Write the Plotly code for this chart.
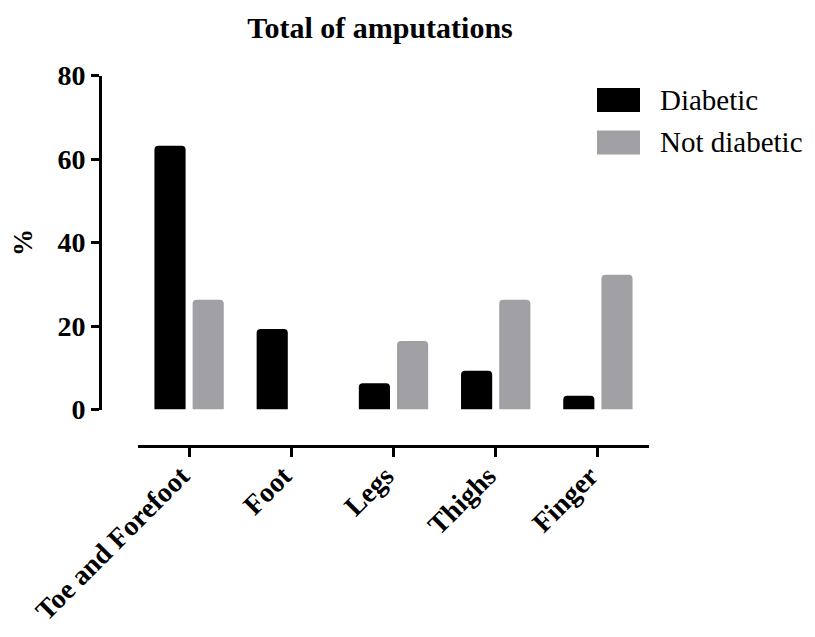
import plotly.graph_objects as go

categories = ["Toe and Forefoot", "Foot", "Legs", "Thighs", "Finger"]
diabetic = [63.2, 19.3, 6.3, 9.3, 3.3]
not_diabetic = [26.3, 0, 16.4, 26.3, 32.3]
y_ticks = [0, 20, 40, 60, 80]
series_names = ["Diabetic", "Not diabetic"]
series_colors = ["#000000", "#a1a1a5"]

# page is 815x637; the html body has an 8px margin, so the figure is inset
OFF = 8
W, H = 815 - 2 * OFF, 637 - 2 * OFF
FONT = "Liberation Serif"

def px_x(x):
    return (x - OFF) / W

def px_y(y):
    return (H - (y - OFF)) / H

fig = go.Figure()
for name, vals, col in zip(series_names, [diabetic, not_diabetic], series_colors):
    fig.add_trace(go.Bar(
        x=categories, y=vals, name=name,
        marker=dict(color=col, line=dict(width=0)),
        showlegend=False,
    ))

# custom legend (swatch + label)
legend_rows = [100, 142.5]
for name, col, yc in zip(series_names, series_colors, legend_rows):
    fig.add_shape(type="rect", xref="paper", yref="paper",
                  x0=px_x(597), x1=px_x(640), y0=px_y(yc + 12), y1=px_y(yc - 12),
                  fillcolor=col, line=dict(width=0), layer="above")
    fig.add_annotation(text=name, xref="paper", yref="paper",
                       x=px_x(658), y=px_y(yc), xanchor="left", yanchor="middle",
                       showarrow=False, font=dict(family=FONT, size=29, color="black"))

fig.update_layout(
    template="none",
    width=W, height=H,
    margin=dict(l=0, r=0, t=0, b=0, pad=0),
    paper_bgcolor="white", plot_bgcolor="white",
    barmode="group", bargap=0.253, bargroupgap=0.184,
    barcornerradius=4,
    title=dict(text="Total of amputations", x=px_x(380), xanchor="center",
               yref="container", y=px_y(27), yanchor="middle",
               font=dict(family=FONT, size=30, color="black", weight="bold")),
    xaxis=dict(
        domain=[px_x(138), px_x(649)], anchor="free", position=px_y(445.5),
        showline=True, linewidth=3, linecolor="black",
        ticks="outside", ticklen=9, tickwidth=3, tickcolor="black",
        tickangle=-45, showgrid=False, zeroline=False, automargin=False,
        ticklabelshift=-8, ticklabelstandoff=-8,
        tickfont=dict(family=FONT, size=28, color="black", weight="bold"),
    ),
    yaxis=dict(
        domain=[px_y(409.5), px_y(75.5)], anchor="free", position=px_x(100),
        range=[0, 80], tickvals=y_ticks,
        showline=True, linewidth=3, linecolor="black",
        ticks="outside", ticklen=8, tickwidth=3, tickcolor="black",
        showgrid=False, zeroline=False, automargin=False,
        tickfont=dict(family=FONT, size=28, color="black", weight="bold"),
        title=dict(text="%", standoff=18,
                   font=dict(family=FONT, size=27, color="black", weight="bold")),
    ),
)

fig.write_html("out.html")
